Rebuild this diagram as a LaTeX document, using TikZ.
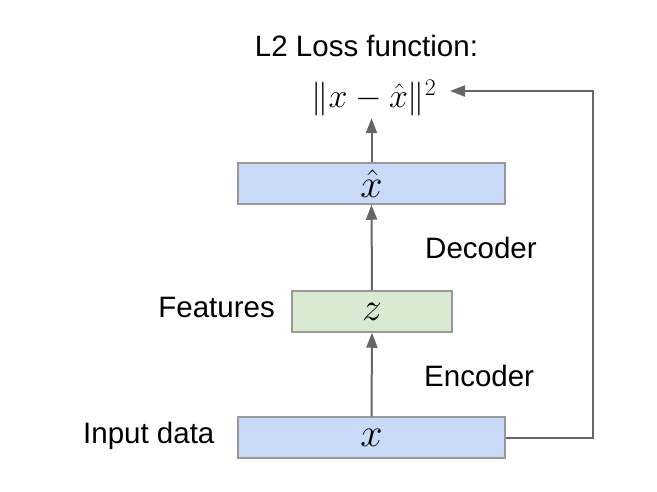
\RequirePackage{fix-cm}
\documentclass[tikz,border=0pt]{standalone}
\usepackage[no-math]{fontspec}
\setmainfont{Liberation Sans}
\usetikzlibrary{arrows.meta}
\definecolor{boxblue}{HTML}{C9DAF8}
\definecolor{boxgreen}{HTML}{D9EAD3}
\definecolor{boxedge}{HTML}{999999}
\definecolor{arrowgray}{HTML}{666666}
\tikzset{
  layerbox/.style={draw=boxedge, line width=1.5pt, minimum height=41pt, inner sep=0pt,
    font=\fontsize{40}{44}\selectfont},
  lbl/.style={inner sep=0pt, font=\fontsize{29.5}{35}\selectfont},
  conn/.style={draw=arrowgray, line width=2pt, -{Triangle[length=15pt,width=11pt]}}
}
\begin{document}
\begin{tikzpicture}[x=1pt, y=-1pt]
\useasboundingbox (0,0) rectangle (657,492);
\node[layerbox, fill=boxblue, minimum width=267pt] (xhat) at (371.5,183.5) {$\hat{x}$};
\node[layerbox, fill=boxgreen, minimum width=160pt] (z) at (372,311.5) {$z$};
\node[layerbox, fill=boxblue, minimum width=267pt] (xin) at (371.5,437.5) {$x$};
\node[lbl, anchor=base] (title) at (366.5,57) {L2 Loss function:};
\node[inner sep=1.5pt, anchor=base, font=\fontsize{34}{36}\selectfont] (loss) at (374,108) {$\|x-\hat{x}\|^2$};
\node[lbl, anchor=base west] (dec) at (425,259) {Decoder};
\node[lbl, anchor=base west] (enc) at (424,386) {Encoder};
\node[lbl, anchor=base east] (feat) at (275,317) {Features};
\node[lbl, anchor=base west] (inp) at (83,443) {Input data};
\coordinate (corner) at (593,91);
\coordinate (lossin) at (450,91);
\draw[conn] (xin.north) -- (z.south);
\draw[conn] (z.north) -- (xhat.south);
\draw[conn] (xhat.north) -- (xhat.north |- loss.south);
\draw[conn] (xin.east) -| (corner) -- (lossin);
\end{tikzpicture}
\end{document}
